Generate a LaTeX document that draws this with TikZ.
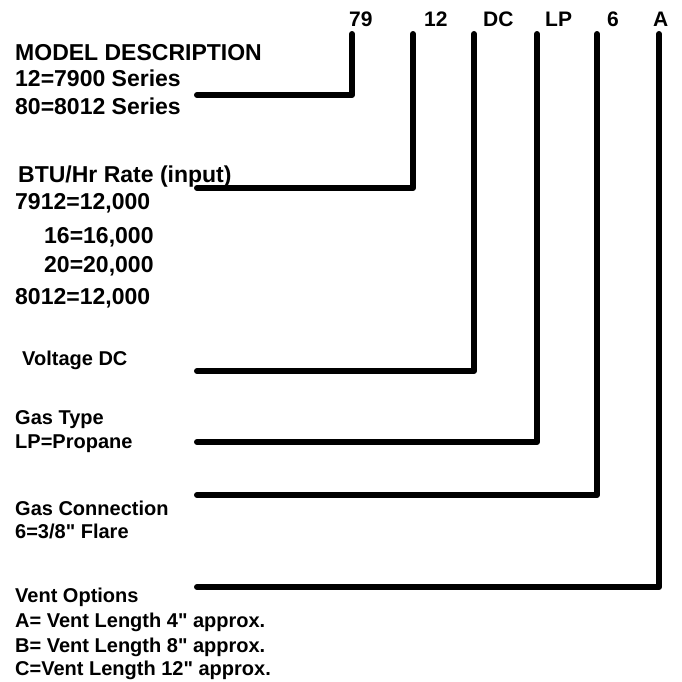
\documentclass[tikz,border=0pt]{standalone}
\usepackage{fontspec}
\setmainfont{Liberation Sans}[Ligatures=TeXOff]
\begin{document}
\begin{tikzpicture}[x=1pt,y=-1pt,
  lbl/.style={anchor=base west,inner sep=0pt,font=\bfseries\fontsize{23}{23}\selectfont},
  lbs/.style={anchor=base west,inner sep=0pt,font=\bfseries\fontsize{20}{20}\selectfont},
  code/.style={anchor=base west,inner sep=0pt,font=\bfseries\fontsize{21}{21}\selectfont},
  lead/.style={line width=6pt,line cap=round,line join=round}]
\useasboundingbox (0,0) rectangle (682,681);
% header codes
\node[code] (c79) at (349,26) {79};
\node[code] (c12) at (424,26) {12};
\node[code] (cdc) at (483,26) {DC};
\node[code] (clp) at (545,26) {LP};
\node[code] (c6)  at (607,26) {6};
\node[code] (ca)  at (653,26) {A};
% labels
\node[lbl] (md1) at (15,60) {MODEL DESCRIPTION};
\node[lbl] (md2) at (15,86) {12=7900 Series};
\node[lbl] (md3) at (15,114) {80=8012 Series};
\node[lbl] (bt1) at (18,182) {BTU/Hr Rate (input)};
\node[lbl] (bt2) at (15,209) {7912=12,000};
\node[lbl] (bt3) at (44,243) {16=16,000};
\node[lbl] (bt4) at (44,272) {20=20,000};
\node[lbl] (bt5) at (15,304) {8012=12,000};
\node[lbs] (vd)  at (22,365) {Voltage DC};
\node[lbs] (gt1) at (15,424) {Gas Type};
\node[lbs] (gt2) at (15,448) {LP=Propane};
\node[lbs] (gc1) at (15,515) {Gas Connection};
\node[lbs] (gc2) at (15,538) {6=3/8" Flare};
\node[lbs] (vo1) at (15,602) {Vent Options};
\node[lbs] (vo2) at (15,627) {A= Vent Length 4" approx.};
\node[lbs] (vo3) at (15,652) {B= Vent Length 8" approx.};
\node[lbs] (vo4) at (15,675) {C=Vent Length 12" approx.};
% connector ends
\coordinate (t79) at (352,34); \coordinate (e79) at (197,95);
\coordinate (t12) at (413,34); \coordinate (e12) at (197,188);
\coordinate (tdc) at (474,34); \coordinate (edc) at (197,371);
\coordinate (tlp) at (537,34); \coordinate (elp) at (197,442);
\coordinate (t6)  at (597,34); \coordinate (e6)  at (197,495);
\coordinate (ta)  at (659,34); \coordinate (ea)  at (197,587);
\draw[lead] (t79) |- (e79);
\draw[lead] (t12) |- (e12);
\draw[lead] (tdc) |- (edc);
\draw[lead] (tlp) |- (elp);
\draw[lead] (t6)  |- (e6);
\draw[lead] (ta)  |- (ea);
\end{tikzpicture}
\end{document}
